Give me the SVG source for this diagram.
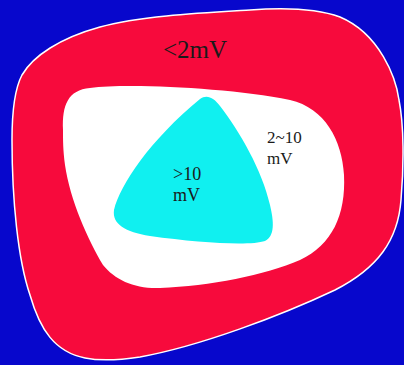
<svg xmlns="http://www.w3.org/2000/svg" width="404" height="365" viewBox="0 0 404 365">
<style>
.lbl{font-family:"Liberation Serif","Times New Roman",serif;fill:#1a1a1a}
</style>
<rect id="background" x="0" y="0" width="404" height="365" fill="#0707cc"/>
<g id="zone-outer">
<path d="M 12,140 C 12,200 18,260 30,295 C 40,330 55,352 85,358 C 100,361 120,360 140,357 C 200,346 280,316 335,290 C 378,268 398,240 401,200 C 404,165 404,125 399,100 C 396,78 380,34 340,17 C 318,9 290,7 250,10 C 200,13 140,16 100,27 C 60,38 33,56 22,75 C 14,90 12,115 12,140 Z" fill="#f70a3c" stroke="#ffffff" stroke-width="1.5"/>
<text class="lbl" x="195" y="58" font-size="25" text-anchor="middle">&lt;2mV</text>
</g>
<g id="zone-middle">
<path d="M 63,130 C 62,105 68,90 90,88 C 130,83 230,88 290,100 C 325,108 342,140 344,175 C 346,215 332,245 300,260 C 265,275 210,286 160,288 C 135,289 115,280 103,265 C 88,240 70,200 65,165 C 63,150 63,140 63,130 Z" fill="#ffffff"/>
<text class="lbl" x="267" y="143" font-size="17">2~10</text>
<text class="lbl" x="267" y="164" font-size="17">mV</text>
</g>
<g id="zone-inner">
<path d="M 200,99 C 207,94 214,98 220,106 C 240,132 262,170 270,205 C 274,222 275,236 265,241 C 250,246 200,243 150,236 C 125,232 112,224 114,210 C 120,185 150,140 200,99 Z" fill="#10f0f0"/>
<text class="lbl" x="173" y="180" font-size="18">&gt;10</text>
<text class="lbl" x="173" y="201" font-size="18">mV</text>
</g>
</svg>
